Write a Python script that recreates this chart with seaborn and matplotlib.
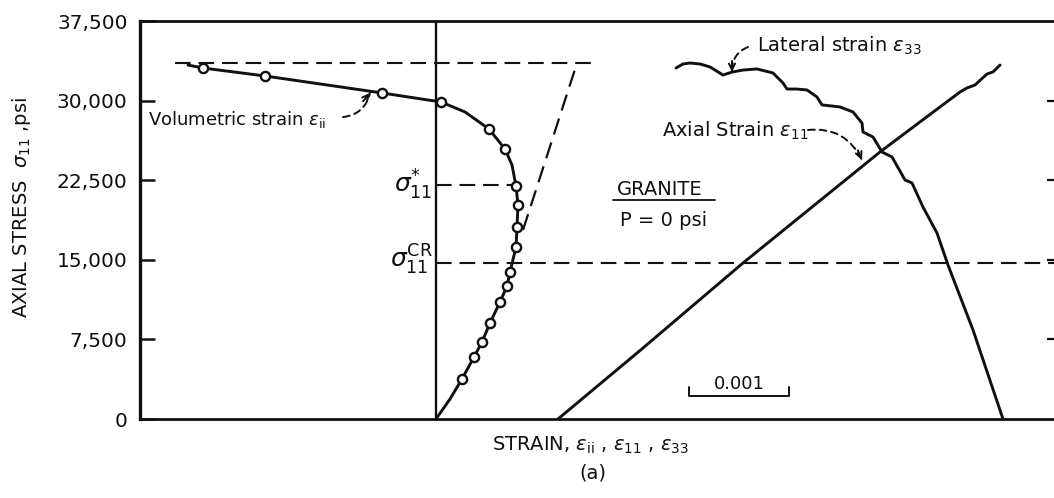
import matplotlib
matplotlib.use("Agg")
import matplotlib.pyplot as plt
from matplotlib.ticker import FuncFormatter
import seaborn as sns

# Granite, unconfined (P = 0 psi). Strains are in units of 1e-3,
# measured along one common strain scale; stresses in psi.

# Volumetric strain readings (circles)
vol_strain = [-2.33, -1.71, -0.54, 0.05, 0.53, 0.69, 0.80, 0.82, 0.81,
              0.80, 0.74, 0.71, 0.64, 0.54, 0.46, 0.38, 0.26]
vol_stress = [33070, 32320, 30720, 29870, 27320, 25440, 21950, 20160, 18090,
              16210, 13850, 12530, 11020, 9050, 7250, 5840, 3770]

# Faired volumetric curve
vol_curve_strain = [-2.48, -2.33, -1.71, -0.54, 0.05, 0.29, 0.53, 0.69, 0.76,
                    0.80, 0.82, 0.81, 0.80, 0.74, 0.71, 0.64, 0.54, 0.46, 0.38,
                    0.26, 0.14, 0.0]
vol_curve_stress = [33350, 33070, 32320, 30720, 29870, 28930, 27320, 25440, 23930,
                    21950, 20160, 18090, 16210, 13850, 12530, 11020, 9050, 7250, 5840,
                    3770, 1880, 0]

# Axial strain trace
axial_strain = [0.0, 0.82, 1.85, 3.22, 3.62, 4.02, 4.09, 4.17, 4.29, 4.35, 4.42]
axial_stress = [0, 6450, 14700, 25160, 27990, 30810, 31190, 31470, 32510, 32700, 33350]

# Lateral strain trace (extension is negative)
lateral_strain = [-3.27, -3.20, -3.13, -3.03, -2.93, -2.80, -2.71, -2.60, -2.46,
                  -2.30, -2.20, -2.16, -2.06, -1.96, -1.86, -1.81, -1.72, -1.63,
                  -1.50, -1.41, -1.40, -1.30, -1.21, -1.11, -0.98, -0.91, -0.80,
                  -0.66, -0.55, -0.30, 0.0]
lateral_stress = [33070, 33450, 33540, 33450, 33170, 32410, 32690, 32880, 32980,
                  32600, 31660, 31090, 31090, 31000, 30340, 29590, 29500, 29400,
                  28930, 27890, 27040, 26570, 25160, 24690, 22520, 22240, 19970,
                  17520, 14510, 8390, 0]

# Zero positions of the axial and lateral traces on the strain scale
AXIAL_ORIGIN = 1.22
LATERAL_ORIGIN = 5.67

# Stress levels
PEAK_STRESS = 33540
SIGMA_STAR = 22050
SIGMA_CR = 14700

# Linear (dashed) extension of the volumetric curve
tangent_strain = [0.87, 1.41]
tangent_stress = [17810, 33540]

y_ticks = [0, 7500, 15000, 22500, 30000, 37500]
SCALE_LENGTH = 1.0  # 0.001 strain

ink = "#101010"

sns.set_style("ticks")
plt.rcParams["font.family"] = ["DejaVu Sans"]
plt.rcParams["mathtext.fontset"] = "dejavusans"

fig = plt.figure(figsize=(10.54, 4.98), dpi=100)
ax = fig.add_axes([140 / 1054, 1 - 419 / 498, 914 / 1054, 398 / 498])

x_min, x_max = -2.96, 6.18
ax.set_xlim(x_min, x_max)
ax.set_ylim(0, 37500)

# zero line for the volumetric strain
ax.plot([0, 0], [0, 37500], color=ink, lw=1.7)

# dashed reference lines
dash = (0, (7.5, 3.8))
ax.plot([-2.61, 1.55], [PEAK_STRESS, PEAK_STRESS], color=ink, lw=1.5, ls=dash)
ax.plot(tangent_strain, tangent_stress, color=ink, lw=1.6, ls=dash)
ax.plot([0, 0.80], [SIGMA_STAR, SIGMA_STAR], color=ink, lw=1.5, ls=dash)
ax.plot([0, x_max], [SIGMA_CR, SIGMA_CR], color=ink, lw=1.5, ls=dash)

# curves
sns.lineplot(x=vol_curve_strain, y=vol_curve_stress, sort=False, estimator=None,
             ax=ax, color=ink, lw=2.1)
sns.lineplot(x=[AXIAL_ORIGIN + e for e in axial_strain], y=axial_stress, sort=False,
             estimator=None, ax=ax, color=ink, lw=2.1)
sns.lineplot(x=[LATERAL_ORIGIN + e for e in lateral_strain], y=lateral_stress,
             sort=False, estimator=None, ax=ax, color=ink, lw=2.1)
sns.scatterplot(x=vol_strain, y=vol_stress, ax=ax, s=44, marker="o",
                facecolor="white", edgecolor=ink, linewidth=1.7, zorder=4)

# axes styling
ax.set_yticks(y_ticks)
ax.yaxis.set_major_formatter(FuncFormatter(lambda v, p: f"{int(v):,}"))
ax.set_xticks([])
ax.tick_params(axis="y", direction="in", length=11, width=1.8, pad=9,
               labelsize=14.5, colors=ink)
ax.spines["left"].set_linewidth(2.4)
for side in ("top", "bottom"):
    ax.spines[side].set_linewidth(2.0)
ax.spines["right"].set_visible(False)
for s in ax.spines.values():
    s.set_color(ink)

ax_r = ax.twinx()
ax_r.set_ylim(0, 37500)
ax_r.set_yticks([7500, 15000, 22500, 30000])
ax_r.set_yticklabels([])
ax_r.tick_params(axis="y", direction="in", length=5, width=1.6, colors=ink)
for s in ax_r.spines.values():
    s.set_visible(False)

# labels on the stress levels
ax.text(-0.04, SIGMA_STAR, r"$\sigma_{11}^{*}$", ha="right", va="center",
        fontsize=18, color=ink)
ax.text(-0.03, SIGMA_CR + 300, r"$\sigma_{11}^{\mathrm{CR}}$", ha="right",
        va="center", fontsize=18, color=ink)

# curve captions with dashed leaders
def leader(start, end, rad, head_off):
    ax.annotate("", xy=end, xytext=start,
                arrowprops=dict(arrowstyle="-", color=ink, lw=1.4,
                                ls=(0, (3.5, 2.5)),
                                connectionstyle=f"arc3,rad={rad}",
                                shrinkA=0, shrinkB=0))
    ax.annotate("", xy=end, xytext=head_off, textcoords="offset points",
                arrowprops=dict(arrowstyle="->,head_length=0.45,head_width=0.22",
                                color=ink, lw=1.4, shrinkA=0, shrinkB=0))

ax.text(-2.88, 27700, r"Volumetric strain $\epsilon_{\mathrm{ii}}$", fontsize=13,
        color=ink, va="baseline")
leader((-0.93, 28450), (-0.66, 30720), 0.35, (-5, -6))

ax.text(3.21, 34580, r"Lateral strain $\epsilon_{33}$", fontsize=14, color=ink,
        va="baseline")
leader((3.12, 35050), (2.96, 32690), 0.35, (0, 8))

ax.text(2.26, 26570, r"Axial Strain $\epsilon_{11}$", fontsize=14, color=ink,
        va="baseline")
leader((3.72, 27230), (4.26, 24400), -0.35, (-3, 7))

ax.text(1.81, 21100, "GRANITE", fontsize=14, color=ink, va="baseline")
ax.plot([1.77, 2.79], [20630, 20630], color=ink, lw=1.3)
ax.text(1.84, 18180, "P = 0 psi", fontsize=14, color=ink, va="baseline")

# strain scale bar
bar_x0 = 2.53
ax.plot([bar_x0, bar_x0, bar_x0 + SCALE_LENGTH, bar_x0 + SCALE_LENGTH],
        [3010, 2170, 2170, 3010], color=ink, lw=1.4)
ax.text(bar_x0 + SCALE_LENGTH / 2, 3300, "0.001", ha="center", va="center",
        fontsize=13, color=ink)

fig.text(22 / 1054, 1 - 207 / 498, r"AXIAL STRESS  $\sigma_{11}$ ,psi", rotation=90,
         ha="center", va="center", fontsize=14, color=ink)
fig.text(591 / 1054, 1 - 445 / 498,
         r"STRAIN, $\epsilon_{\mathrm{ii}}$ , $\epsilon_{11}$ , $\epsilon_{33}$",
         ha="center", va="center", fontsize=14, color=ink)
fig.text(593 / 1054, 1 - 473 / 498, "(a)", ha="center", va="center",
         fontsize=14, color=ink)

fig.savefig("out.png", dpi=100, facecolor="white")
